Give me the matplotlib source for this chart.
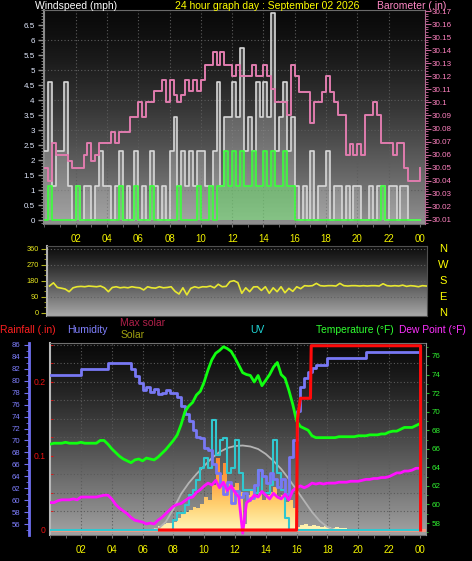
import numpy as np
import matplotlib
matplotlib.use('Agg')
import matplotlib.pyplot as plt
from matplotlib.colors import LinearSegmentedColormap
from matplotlib.ticker import MultipleLocator

plt.rcParams['font.family'] = ['Liberation Sans', 'DejaVu Sans']

W, H = 472, 561

# ---------------- data, 15 minute steps from 00:00 ----------------
# wind gust / average (mph)
gust = [2.3, 4.6, 1.15, 2.3,   2.3, 4.6, 1.15, 0,     1.15, 0, 1.15, 1.15,  0, 1.15, 2.3, 1.15,
        1.15, 0, 1.15, 2.3,    0, 1.15, 0, 2.3,       0, 1.15, 0, 2.3,      1.15, 0, 1.15, 0,
        2.3, 3.45, 1.15, 2.3,  1.15, 2.3, 1.15, 2.3,  2.3, 1.15, 1.15, 2.3, 4.6, 1.15, 3.45, 3.45,
        4.6, 3.45, 5.75, 2.3,  3.45, 2.3, 4.6, 3.45,  4.6, 3.45, 6.9, 2.3,  3.45, 4.6, 2.3, 3.45,
        1.15, 0, 1.15, 0,      2.3, 0, 1.15, 1.15,    2.3, 0, 1.15, 1.15,   0, 1.15, 0, 1.15,
        1.15, 0, 0, 1.15,      0, 1.15, 1.15, 0,      1.15, 1.15, 0, 1.15,  1.15, 0, 0, 0]
avg = [0, 1.15, 0, 0,   0, 0, 0, 0,   1.15, 0, 0, 0,   0, 0, 0, 0,
       0, 0, 0, 1.15,   0, 0, 0, 1.15,   0, 0, 0, 1.15,   0, 0, 0, 0,
       0, 0, 1.15, 0,   0, 0, 0, 1.15,   0, 0, 1.15, 0,   1.15, 1.15, 2.3, 1.15,
       2.3, 1.15, 2.3, 1.15,   1.15, 2.3, 1.15, 1.15,   2.3, 1.15, 2.3, 1.15,   1.15, 2.3, 1.15, 1.15,
       0, 0, 0, 0,   0, 0, 0, 0,   0, 0, 0, 0,   0, 0, 0, 0,
       0, 0, 0, 0,   0, 0, 1.15, 0,   0, 0, 0, 0,   0, 0, 0, 0]
# barometer (in)
baro = [30.050, 30.040, 30.069, 30.060,  30.060, 30.060, 30.055, 30.050,
        30.050, 30.050, 30.060, 30.069,  30.055, 30.060, 30.069, 30.069,
        30.069, 30.077, 30.069, 30.077,  30.077, 30.077, 30.089, 30.089,
        30.100, 30.089, 30.100, 30.100,  30.109, 30.109, 30.117, 30.100,
        30.117, 30.106, 30.100, 30.106,  30.117, 30.109, 30.117, 30.109,
        30.117, 30.129, 30.129, 30.139,  30.129, 30.139, 30.129, 30.129,
        30.120, 30.129, 30.120, 30.120,  30.120, 30.129, 30.120, 30.120,
        30.129, 30.120, 30.110, 30.100,  30.100, 30.100, 30.090, 30.129,
        30.120, 30.108, 30.108, 30.108,  30.084, 30.100, 30.100, 30.108,
        30.120, 30.108, 30.100, 30.090,  30.090, 30.060, 30.068, 30.060,
        30.068, 30.060, 30.090, 30.090,  30.100, 30.090, 30.069, 30.069,
        30.069, 30.060, 30.069, 30.069,  30.050, 30.040, 30.040, 30.040, 30.050]
# wind direction (deg)
wdir = [150, 168, 142, 138,  133, 118, 140, 146,  148, 146, 150, 148,  146, 150, 140, 118,
        142, 146, 140, 143,  140, 146, 142, 140,  128, 146, 140, 138,  146, 140, 142, 146,
        120, 105, 140, 100,  137, 146, 140, 146,  145, 150, 140, 160,  146, 148, 175, 180,
        169, 109, 140, 118,  145, 146, 125, 146,  109, 140, 118, 146,  112, 137, 120, 146,
        135, 152, 150, 152,  165, 152, 150, 152,  152, 150, 165, 152,  150, 152, 152, 150,
        152, 150, 152, 152,  150, 163, 152, 150,  152, 150, 155, 148,  152, 150, 146, 152, 150]
# humidity (%)
hum = [80.9, 80.9, 80.9, 80.9,  80.9, 80.9, 80.9, 80.9,  81.9, 81.9, 81.9, 81.9,  81.9, 81.9, 81.9, 83.0,
       83.0, 83.0, 83.0, 83.0,  83.0, 82.0, 80.8, 79.6,  78.5, 79.0, 78.2, 78.6,  77.8, 77.9, 78.4, 77.9,
       77.9, 77.2, 75.8, 74.5,  73.3, 71.8, 70.6, 70.4,  68.8, 68.4, 66.0, 64.5,  62.5, 61.0, 63.0, 59.5,
       61.5, 60.5, 61.2, 60.0,  60.3, 62.5, 65.0, 64.0,  62.8, 64.5, 63.5, 62.2,  63.5, 61.0, 67.3, 70.1,
       75.0, 79.0, 80.5, 81.5,  82.2, 82.6, 82.6, 82.6,  83.8, 83.8, 83.8, 83.8,  83.8, 83.8, 83.8, 83.8,
       83.8, 83.8, 84.8, 84.8,  84.8, 84.8, 84.8, 84.8,  84.8, 84.8, 84.8, 84.8,  84.8, 84.8, 84.8, 84.8, 84.8]
# temperature / dew point (F)
temp = [66.5, 66.6, 66.6, 66.6,  66.7, 66.6, 66.6, 66.6,  66.7, 66.6, 66.6, 66.6,  66.6, 66.9, 66.9, 66.5,
        66.0, 65.6, 65.2, 64.9,  64.7, 64.5, 64.8, 64.9,  64.7, 65.0, 64.9, 64.8,  65.1, 65.5, 65.9, 66.4,
        66.9, 67.5, 68.6, 70.0,  70.6, 71.0, 71.8, 72.2,  73.2, 74.5, 75.6, 76.3,  76.6, 77.0, 76.8, 76.5,
        75.8, 75.0, 74.2, 74.0,  73.9, 73.2, 73.9, 72.8,  73.4, 74.0, 74.8, 75.3,  74.0, 73.6, 72.3, 70.8,
        69.0, 68.4, 68.2, 68.0,  67.4, 67.2, 67.2, 67.2,  67.2, 67.2, 67.2, 67.3,  67.3, 67.3, 67.3, 67.3,
        67.4, 67.4, 67.4, 67.5,  67.5, 67.5, 67.6, 67.6,  67.8, 67.9, 67.9, 68.1,  68.3, 68.3, 68.3, 68.5, 68.7]
dew = [60.2, 60.2, 60.4, 60.5,  60.5, 60.5, 60.6, 60.5,  60.8, 60.8, 60.8, 60.8,  60.8, 60.9, 61.0, 61.0,
       60.6, 60.0, 59.6, 59.3,  59.0, 58.6, 58.3, 58.2,  58.1, 57.9, 58.0, 57.9,  58.3, 58.6, 59.0, 59.4,
       59.8, 60.0, 60.1, 60.4,  60.7, 60.8, 61.3, 61.6,  62.0, 62.3, 62.1, 62.6,  61.8, 62.4, 61.5, 62.0,
       61.3, 60.8, 56.9, 60.2,  60.5, 61.0, 60.8, 61.4,  61.0, 60.6, 61.2, 60.8,  60.6, 61.1, 60.5, 61.5,
       61.8, 62.0, 61.8, 62.0,  62.3, 62.2, 62.3, 62.2,  62.3, 62.3, 62.3, 62.4,  62.4, 62.4, 62.5, 62.5,
       62.5, 62.6, 62.7, 62.7,  62.8, 62.8, 62.9, 62.9,  63.0, 63.2, 63.4, 63.4,  63.6, 63.6, 63.7, 63.9, 63.9]
# UV index
uv = [0] * 32 + [0.4, 0.7, 0.7, 1.0,  1.4, 1.6, 2.0, 2.5,  2.9, 2.5, 4.4, 3.0,  3.6, 3.7, 2.3, 2.5,
                 3.6, 2.3, 1.6, 1.6,  1.6, 1.5, 2.4, 1.5,  1.5, 1.8, 3.6, 2.3,  1.6, 0.5, 0, 0] + [0] * 32
# solar (W/m2)
solar = [0] * 24 + [0, 0, 10, 25,  40, 60, 70, 75,  80, 120, 170, 180,  200, 230, 220, 260,
                    330, 300, 450, 720,  550, 670, 480, 430,  470, 380, 60, 350,  400, 330, 380, 300,
                    350, 380, 430, 330,  350, 280, 300, 220,  30, 50, 60, 40,  50, 40, 30, 40,
                    30, 25, 30, 20,  20, 15, 10, 0] + [0] * 16
# max solar (W/m2), half hour steps
maxsol_t = [6.5, 7.0, 7.5, 8.0, 8.5, 9.0, 9.5, 10.0, 10.5, 11.0, 11.5, 12.0, 12.5,
            13.0, 13.5, 14.0, 14.5, 15.0, 15.5, 16.0, 16.5, 17.0, 17.5, 18.0, 18.5]
maxsol = [0, 10, 80, 210, 360, 470, 560, 640, 720, 780, 820, 840, 845,
          835, 810, 760, 690, 610, 510, 400, 290, 180, 90, 30, 0]
# rainfall (in)
rain_t = [7.1, 16.0, 16.05, 16.25, 16.9, 16.95, 24.05, 24.05]
rain = [0, 0, 0.149, 0.178, 0.178, 0.249, 0.249, 0]

hour_ticks = [2, 4, 6, 8, 10, 12, 14, 16, 18, 20, 22, 24]
hour_labels = ['02', '04', '06', '08', '10', '12', '14', '16', '18', '20', '22', '00']

t97 = np.arange(97) * 0.25

YEL = '#f2f200'
DOT = (0, (1, 2))

fig = plt.figure(figsize=(W / 100, H / 100), dpi=100, facecolor='black')


def box(x0, y0, x1, y1):
    # axes placed by pixel edges
    return fig.add_axes([x0 / W, 1 - y1 / H, (x1 - x0) / W, (y1 - y0) / H])


def shade(ax, top, bottom, gamma=1.0):
    g = np.linspace(0, 1, 200) ** gamma
    cmap = LinearSegmentedColormap.from_list('g', [top, bottom])
    ax.imshow(g[:, None], cmap=cmap, aspect='auto', extent=(0, 1, 0, 1),
              origin='upper', transform=ax.transAxes, zorder=0)


def label(x, y, s, color, size=7.5, ha='left'):
    fig.text(x / W, 1 - y / H, s, color=color, fontsize=size, ha=ha, va='center')


# ---------------- top: wind speed + barometer ----------------
ax_w = box(44.4, 10, 425, 224)
shade(ax_w, '#0a0a0a', '#909090', 1.4)
ax_w.set_xlim(0, 24.32)
ax_w.set_ylim(-0.133, 7.0)
ax_w.step(t97, gust + [gust[-1]], where='post', color='#d8d8d8', lw=1.2, zorder=3)
ax_w.fill_between(t97, 0, gust + [gust[-1]], step='post', color='#e0e0e0', alpha=0.25, lw=0, zorder=2)
ax_w.step(t97, avg + [avg[-1]], where='post', color='#3cff3c', lw=1.2, zorder=4)
ax_w.fill_between(t97, 0, avg + [avg[-1]], step='post', color='#50ff50', alpha=0.35, lw=0, zorder=3)

wt = np.arange(0, 6.51, 0.5)
ax_w.set_yticks(wt)
ax_w.set_yticklabels(['%g' % v for v in wt])
ax_w.yaxis.set_minor_locator(MultipleLocator(0.1))
ax_w.tick_params(axis='y', which='major', colors='#909090', length=4, width=1, labelcolor='#e2eaff',
                 labelsize=5.8, pad=3)
ax_w.tick_params(axis='y', which='minor', colors='#909090', length=2)
ax_w.set_xticks(hour_ticks)
ax_w.set_xticklabels(hour_labels)
ax_w.xaxis.set_minor_locator(MultipleLocator(1))
ax_w.tick_params(axis='x', which='both', colors='#707070', length=2, labelcolor=YEL, labelsize=7, pad=5)
for v in range(1, 7):
    ax_w.axhline(v, color='#5c5c5c', lw=0.8, ls=DOT, zorder=1)
for h in hour_ticks[:-1]:
    ax_w.axvline(h, color='#5c5c5c', lw=0.8, ls=DOT, zorder=1)
for s in ['top', 'bottom']:
    ax_w.spines[s].set_color('#6a6a6a')
ax_w.spines['left'].set_color('#8a8a8a')
ax_w.spines['left'].set_linewidth(1.5)
ax_w.spines['right'].set_visible(False)

ax_b = ax_w.twinx()
ax_b.set_ylim(30.0069, 30.1708)
ax_b.step(t97, baro, where='post', color='#e07cae', lw=1.4, zorder=5)
bt = np.round(np.arange(30.01, 30.171, 0.01), 2)
ax_b.set_yticks(bt)
ax_b.set_yticklabels(['%g' % v for v in bt])
ax_b.yaxis.set_minor_locator(MultipleLocator(0.002))
ax_b.tick_params(axis='y', which='major', colors='#c8689a', length=4, labelcolor='#ff82c0',
                 labelsize=5.8, pad=1)
ax_b.tick_params(axis='y', which='minor', colors='#c8689a', length=2)
for s in ['top', 'bottom', 'left']:
    ax_b.spines[s].set_visible(False)
ax_b.spines['right'].set_color('#b06a90')

label(35, 6, 'Windspeed (mph)', 'white')
label(175, 6, '24 hour graph day : September 02 2026', '#ffff00')
label(377, 6, 'Barometer (.in)', '#ff88c4')

# ---------------- middle: wind direction ----------------
ax_d = box(47.3, 245.7, 426.7, 316)
shade(ax_d, '#0c0c0c', '#a8a8a8', 1.2)
ax_d.set_xlim(-0.14, 24.03)
ax_d.set_ylim(-18.6, 376.9)
ax_d.plot(t97, wdir, color='#e8e830', lw=1.2, zorder=3)
for v in [90, 180, 270, 360]:
    ax_d.axhline(v, color='#606060', lw=0.8, ls=DOT, zorder=1)
ax_d.set_yticks([0, 90, 180, 270, 360])
ax_d.yaxis.set_minor_locator(MultipleLocator(30))
ax_d.tick_params(axis='y', which='major', colors='#b0b020', length=4, labelcolor='#e8e820', labelsize=5.3, pad=2)
ax_d.tick_params(axis='y', which='minor', colors='#b0b020', length=2)
ax_d.set_xticks([])
for s in ['top', 'right', 'bottom']:
    ax_d.spines[s].set_color('#505050')
ax_d.spines['left'].set_color('#b0b0b0')
ax_d.spines['left'].set_linewidth(1.5)
for ch, v in zip(['N', 'W', 'S', 'E', 'N'], [360, 270, 180, 90, 0]):
    label(443, 312.7 - v * 16 / 90, ch, '#ffff00', size=8, ha='center')

# ---------------- legend row ----------------
label(0, 330, 'Rainfall (.in)', '#ff2020')
label(67.5, 330, 'Humidity', '#8080ff')
label(120.5, 323, 'Max solar', '#b0204a')
label(120.5, 335, 'Solar', '#a0a010')
label(250, 330, 'UV', '#20d8d8')
label(316.5, 330, 'Temperature (\u00b0F)', '#30ff30', 7.4)
label(399, 330, 'Dew Point (\u00b0F)', '#ff30ff', 7.4)

# ---------------- bottom: rain / humidity / solar / temperature ----------------
ax_r = box(50, 343, 425.5, 535)
shade(ax_r, '#0a0a0a', '#a2a2a2', 1.25)
ax_r.set_xlim(-0.01, 24.37)
ax_r.set_ylim(-0.00676, 0.2527)
for v in np.arange(0.025, 0.26, 0.025):
    ax_r.axhline(v, color='#5a5a5a', lw=0.8, ls=DOT, zorder=1)
for h in hour_ticks[:-1]:
    ax_r.axvline(h, color='#5a5a5a', lw=0.8, ls=DOT, zorder=1)
ax_r.axhline(0, color='#f09a82', lw=2.2, zorder=2)
ax_r.set_yticks([0, 0.1, 0.2])
ax_r.set_yticklabels(['0', '0.1', '0.2'])
ax_r.yaxis.set_minor_locator(MultipleLocator(0.025))
ax_r.tick_params(axis='y', which='both', direction='in', colors='#e01010', length=2.5,
                 labelcolor='#e81010', labelsize=6.2, pad=3)
ax_r.set_xticks(hour_ticks)
ax_r.set_xticklabels(hour_labels)
ax_r.xaxis.set_minor_locator(MultipleLocator(1))
ax_r.tick_params(axis='x', which='both', colors='#707070', length=2, labelcolor=YEL, labelsize=7, pad=5)
ax_r.spines['top'].set_color('#707070')
ax_r.spines['bottom'].set_color('#707070')
ax_r.spines['left'].set_color('#b8b8b8')
ax_r.spines['left'].set_linewidth(1.5)
ax_r.spines['right'].set_visible(False)

# solar, clipped gradient fill
ax_s = ax_r.twinx()
sol = ax_s.fill_between(t97, 0, solar + [0], step='post', facecolor='none', lw=0)
sol_cmap = LinearSegmentedColormap.from_list('sol', ['#fff6b8', '#ffd070', '#ffa040', '#ff8030'])
im = ax_s.imshow(np.linspace(0, 1, 200)[:, None], extent=(0, 24.37, 0, 760), origin='lower',
                 aspect='auto', cmap=sol_cmap, zorder=2)
im.set_clip_path(sol.get_paths()[0], transform=ax_s.transData)
ax_s.plot(maxsol_t, maxsol, color='#b4b4b4', lw=1.3, zorder=3)
ax_s.set_xlim(-0.01, 24.37)
ax_s.set_ylim(-50, 1870)
ax_s.set_yticks([])
for s in ax_s.spines.values():
    s.set_visible(False)

ax_u = ax_r.twinx()
ax_u.step(t97, uv + [0], where='post', color='#30c8d0', lw=1.5)
ax_u.set_ylim(-0.2, 7.48)
ax_u.set_yticks([])
for s in ax_u.spines.values():
    s.set_visible(False)

ax_h = ax_r.twinx()
ax_h.plot(t97, hum, color='#7878f4', lw=2, drawstyle='steps-post')
ax_h.set_ylim(54.16, 86.33)
ax_h.yaxis.tick_left()
ax_h.set_yticks(np.arange(56, 87, 2))
ax_h.yaxis.set_minor_locator(MultipleLocator(1))
ax_h.tick_params(axis='y', which='major', colors='#6e6ef0', length=3.6, labelcolor='#7f7fff', labelsize=5.6, pad=2.5)
ax_h.tick_params(axis='y', which='minor', colors='#6e6ef0', length=2)
for s in ['top', 'bottom', 'right']:
    ax_h.spines[s].set_visible(False)
ax_h.spines['left'].set_position(('outward', 15.1))
ax_h.spines['left'].set_color('#6e6ef0')
ax_h.spines['left'].set_linewidth(2)

ax_t = ax_r.twinx()
ax_t.plot(t97, temp, color='#10ff10', lw=2)
ax_t.plot(t97, dew, color='#ff10ff', lw=2)
ax_t.set_ylim(56.71, 77.4)
ax_t.set_yticks(np.arange(58, 77, 2))
ax_t.yaxis.set_minor_locator(MultipleLocator(1))
ax_t.tick_params(axis='y', which='major', colors='#20c020', length=2.5, labelcolor='#30f030', labelsize=5.8, pad=2)
ax_t.tick_params(axis='y', which='minor', colors='#20c020', length=1.5)
for s in ['top', 'bottom', 'left']:
    ax_t.spines[s].set_visible(False)
ax_t.spines['right'].set_color('#909090')

ax_rr = ax_r.twinx()
ax_rr.plot(rain_t, rain, color='#ff0a0a', lw=2.2)
ax_rr.set_ylim(-0.00676, 0.2527)
ax_rr.set_yticks([])
for s in ax_rr.spines.values():
    s.set_visible(False)

fig.savefig('out.png', dpi=100, facecolor='black')
